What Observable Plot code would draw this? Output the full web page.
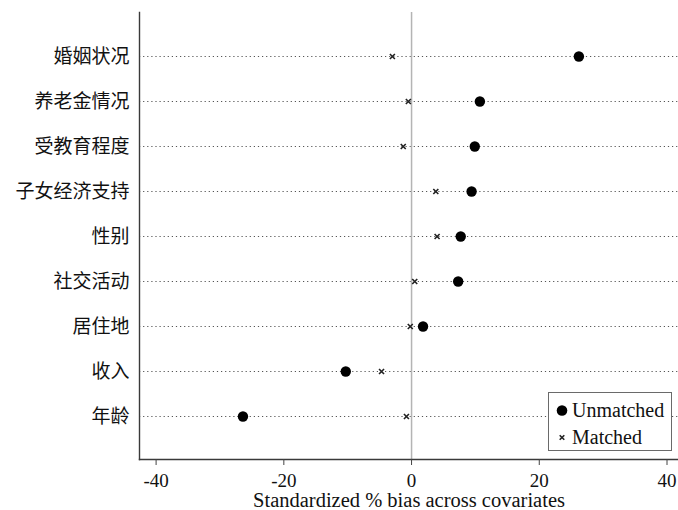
<!DOCTYPE html>
<html>
<head>
<meta charset="utf-8">
<script src="https://cdn.jsdelivr.net/npm/d3@7"></script>
<script src="https://cdn.jsdelivr.net/npm/@observablehq/plot@0.6"></script>
<style>
  html, body { margin: 0; padding: 0; background: #fff; }
  #wrap { position: relative; width: 678px; height: 510px; overflow: hidden; }
  #legend {
    position: absolute; left: 548px; top: 392px; width: 124px; height: 59px;
    border: 1px solid #6a6a6a; background: #fff; box-sizing: border-box;
    font-family: "Liberation Serif", "Times New Roman", serif; font-size: 20px; color: #111;
  }
  #legend .row { position: absolute; left: 0; height: 24px; line-height: 24px; white-space: nowrap; }
  #legend .sym { position: absolute; left: 5px; width: 16px; text-align: center; }
  #legend .lab { position: absolute; left: 23px; }
</style>
</head>
<body>
<div id="wrap">
  <div id="chart"></div>
  <div id="legend">
    <div class="row" style="top:5px"><svg class="sym" width="16" height="24"><circle cx="8" cy="12.5" r="5.3" fill="#000"/></svg><span class="lab">Unmatched</span></div>
    <div class="row" style="top:32px"><svg class="sym" width="16" height="24"><path d="M5.7,10.2L10.3,14.8M10.3,10.2L5.7,14.8" stroke="#222" stroke-width="1.6"/></svg><span class="lab">Matched</span></div>
  </div>
</div>
<script>
// Data (top to bottom)
const categories = ["婚姻状况", "养老金情况", "受教育程度", "子女经济支持", "性别", "社交活动", "居住地", "收入", "年龄"];
const unmatched = [26.2, 10.7, 9.9, 9.4, 7.7, 7.3, 1.8, -10.3, -26.4];
const matched   = [-3.0, -0.5, -1.3, 3.8, 4.0, 0.5, -0.2, -4.7, -0.8];
const xTicks = [-40, -20, 0, 20, 40];
const xDomain = [-42.6, 41.8];
const xLabel = "Standardized % bias across covariates";

const unmatchedData = categories.map((c, i) => ({cat: c, v: unmatched[i]}));
const matchedData = categories.map((c, i) => ({cat: c, v: matched[i]}));

const chart = Plot.plot({
  width: 678,
  height: 510,
  marginLeft: 139,
  marginRight: 0,
  marginTop: 12,
  marginBottom: 51,
  style: {fontFamily: "'Liberation Serif', 'Noto Sans CJK SC', serif", fontSize: "19px", color: "#111", background: "#fff"},
  x: {domain: xDomain, ticks: xTicks, label: null},
  y: {domain: categories, type: "point", padding: 0.907, label: null},
  marks: [
    Plot.ruleY(categories, {y: d => d, stroke: "#555", strokeWidth: 1.2, strokeDasharray: "1.2,2.9"}),
    Plot.ruleX([0], {stroke: "#b4b4b4", strokeWidth: 1.5}),
    Plot.frame({anchor: "left", stroke: "#3a3a3a", strokeWidth: 1.4}),
    Plot.frame({anchor: "bottom", stroke: "#3a3a3a", strokeWidth: 1.4}),
    Plot.axisX({ticks: xTicks, tickSize: 6, tickPadding: 8, stroke: "#444", fontSize: 19,
      fontFamily: "'Liberation Serif', serif", tickFormat: d => String(d), label: null}),
    Plot.text([xLabel], {text: d => d, frameAnchor: "bottom", dy: 41, lineAnchor: "middle",
      fontSize: 20.5, fontFamily: "'Liberation Serif', serif", fill: "#111"}),
    Plot.axisY({tickSize: 0, tickPadding: 10, fontSize: 19, fontFamily: "'Noto Sans CJK SC', sans-serif", label: null}),
    Plot.dot(matchedData, {x: "v", y: "cat", symbol: "times", r: 2.4, stroke: "#222", strokeWidth: 1.6}),
    Plot.dot(unmatchedData, {x: "v", y: "cat", r: 5.2, fill: "#000", stroke: "none"})
  ]
});
document.getElementById("chart").appendChild(chart);
</script>
</body>
</html>
